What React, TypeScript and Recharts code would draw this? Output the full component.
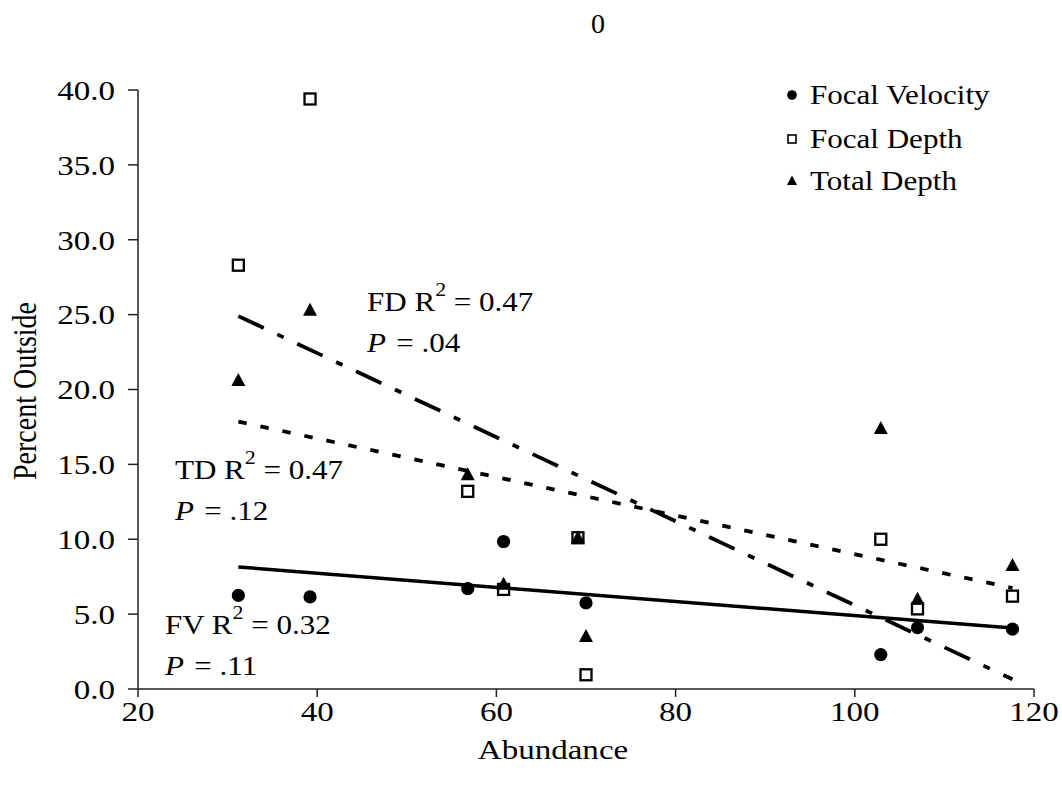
import React from 'react';
import { ScatterChart, Scatter, XAxis, YAxis, ReferenceLine, Customized } from 'recharts';

// Abundance values (x) for each sampling site
const siteAbundance = [31.2, 39.2, 56.8, 60.8, 69.1, 70.0, 102.9, 107.0, 117.6];
const fvAbundance = [31.2, 39.2, 56.8, 60.8, 70.0, 102.9, 107.0, 117.6];

// Percent of observations outside the preferred range
const focalVelocity = [6.25, 6.15, 6.7, 9.85, 5.75, 2.3, 4.1, 4.0];
const focalDepth = [28.3, 39.4, 13.2, 6.65, 10.1, 0.95, 10.0, 5.35, 6.2];
const totalDepth = [20.6, 25.3, 14.3, 7.0, 10.1, 3.5, 17.4, 6.0, 8.25];

// Linear trend end points for each series
const fvTrend = [{ x: 31.2, y: 8.15 }, { x: 117.6, y: 4.07 }];
const fdTrend = [{ x: 31.2, y: 24.9 }, { x: 117.6, y: 0.65 }];
const tdTrend = [{ x: 31.2, y: 17.86 }, { x: 117.6, y: 6.74 }];

const xTicks = [20, 40, 60, 80, 100, 120];
const yTicks = [0, 5, 10, 15, 20, 25, 30, 35, 40];

const fvPoints = fvAbundance.map((x, i) => ({ x, y: focalVelocity[i] }));
const fdPoints = siteAbundance.map((x, i) => ({ x, y: focalDepth[i] }));
const tdPoints = siteAbundance.map((x, i) => ({ x, y: totalDepth[i] }));

const FONT = "'Liberation Serif', 'Times New Roman', serif";
const FS = 27;
const AXIS_FS = 28;
const SX = 1.15;
const AXIS_SX = 1.18;

const DotShape = (p: any) => <circle cx={p.cx} cy={p.cy} r={6.6} fill="#000" />;
const SquareShape = (p: any) => (
  <rect x={p.cx - 5.5} y={p.cy - 5.5} width={11} height={11} fill="#fff" stroke="#000" strokeWidth={2.3} />
);
const TriShape = (p: any) => (
  <path d={`M${p.cx},${p.cy - 7.5} L${p.cx + 7},${p.cy + 5.5} L${p.cx - 7},${p.cy + 5.5} Z`} fill="#000" />
);

const XTick = (p: any) => (
  <g transform={`translate(${p.x},${p.y})`}>
    <text transform={`scale(${AXIS_SX},1)`} textAnchor="middle" dy="0.7em" fontFamily={FONT} fontSize={AXIS_FS} fill="#000">
      {p.payload.value}
    </text>
  </g>
);

const YTick = (p: any) => (
  <g transform={`translate(${p.x},${p.y})`}>
    <text transform={`scale(${AXIS_SX},1)`} textAnchor="end" dy="0.35em" fontFamily={FONT} fontSize={AXIS_FS} fill="#000">
      {Number(p.payload.value).toFixed(1)}
    </text>
  </g>
);

const Stat = ({ x, y, name, r2, p }: { x: number; y: number; name: string; r2: string; p: string }) => (
  <g transform={`translate(${x},${y})`} fontFamily={FONT} fontSize={FS} fill="#000">
    <text transform={`scale(${SX},1)`}>
      {`${name} R`}
      <tspan fontSize={19} dy={-15}>2</tspan>
      <tspan dy={15}>{` = ${r2}`}</tspan>
    </text>
    <text transform={`translate(0,41) scale(${SX},1)`}>
      <tspan fontStyle="italic">P</tspan>
      <tspan dx={9}>{`= ${p}`}</tspan>
    </text>
  </g>
);

const legendItems = [
  { label: 'Focal Velocity', kind: 'dot' },
  { label: 'Focal Depth', kind: 'square' },
  { label: 'Total Depth', kind: 'tri' },
];

const Decorations = () => {
  const rowY = [95, 139, 181];
  return (
    <g>
      <text x={598} y={33} textAnchor="middle" fontFamily={FONT} fontSize={AXIS_FS} fill="#000">0</text>
      <g transform="translate(553,759)">
        <text transform={`scale(${AXIS_SX},1)`} textAnchor="middle" fontFamily={FONT} fontSize={AXIS_FS} fill="#000">Abundance</text>
      </g>
      <g transform="translate(36,391) rotate(-90)">
        <text transform={`scale(1,${AXIS_SX})`} textAnchor="middle" fontFamily={FONT} fontSize={AXIS_FS} fill="#000">Percent Outside</text>
      </g>
      {legendItems.map((it, i) => {
        const cy = rowY[i];
        const cx = 792;
        let marker;
        if (it.kind === 'dot') marker = <circle cx={cx} cy={cy} r={4.8} fill="#000" />;
        else if (it.kind === 'square')
          marker = <rect x={cx - 4} y={cy - 4} width={8} height={8} fill="#fff" stroke="#000" strokeWidth={1.6} />;
        else marker = <path d={`M${cx},${cy - 5.5} L${cx + 5},${cy + 4} L${cx - 5},${cy + 4} Z`} fill="#000" />;
        return (
          <g key={it.label}>
            {marker}
            <g transform={`translate(810,${cy})`}>
              <text transform={`scale(${SX},1)`} dy="0.34em" fontFamily={FONT} fontSize={FS} fill="#000">{it.label}</text>
            </g>
          </g>
        );
      })}
      <Stat x={367} y={311} name="FD" r2="0.47" p=".04" />
      <Stat x={175} y={479} name="TD" r2="0.47" p=".12" />
      <Stat x={165} y={634} name="FV" r2="0.32" p=".11" />
    </g>
  );
};

export default function App() {
  return (
    <div style={{ position: 'absolute', left: 0, top: 0, background: '#fff' }}>
      <ScatterChart width={1062} height={790} margin={{ top: 90, right: 28, bottom: 0, left: 0 }}>
        <XAxis
          type="number"
          dataKey="x"
          domain={[20, 120]}
          ticks={xTicks}
          tickSize={8}
          tickMargin={4}
          height={101}
          axisLine={{ stroke: '#222', strokeWidth: 1.5 }}
          tickLine={{ stroke: '#222', strokeWidth: 1.5 }}
          tick={<XTick />}
          allowDataOverflow
        />
        <YAxis
          type="number"
          dataKey="y"
          domain={[0, 40]}
          ticks={yTicks}
          width={138}
          tickSize={10}
          tickMargin={13}
          axisLine={{ stroke: '#222', strokeWidth: 1.5 }}
          tickLine={{ stroke: '#222', strokeWidth: 1.5 }}
          tick={<YTick />}
          allowDataOverflow
        />
        <ReferenceLine segment={fdTrend} stroke="#000" strokeWidth={3.8} strokeDasharray="28 15 7 15" ifOverflow="visible" />
        <ReferenceLine segment={tdTrend} stroke="#000" strokeWidth={3.8} strokeDasharray="8.5 14" ifOverflow="visible" />
        <ReferenceLine segment={fvTrend} stroke="#000" strokeWidth={3.5} ifOverflow="visible" />
        <Scatter name="Focal Velocity" data={fvPoints} shape={DotShape} isAnimationActive={false} />
        <Scatter name="Focal Depth" data={fdPoints} shape={SquareShape} isAnimationActive={false} />
        <Scatter name="Total Depth" data={tdPoints} shape={TriShape} isAnimationActive={false} />
        <Customized component={<Decorations />} />
      </ScatterChart>
    </div>
  );
}
